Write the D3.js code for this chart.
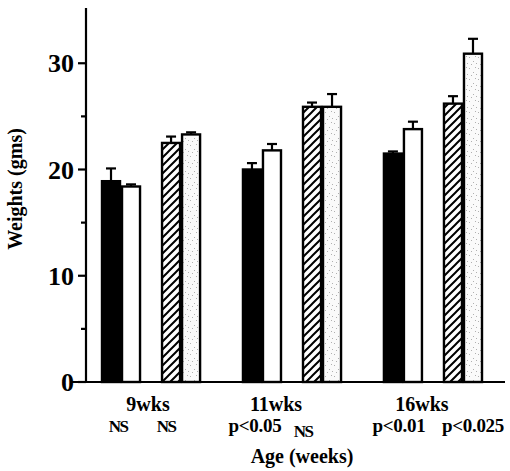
<!DOCTYPE html>
<html>
<head>
<meta charset="utf-8">
<script src="https://cdn.jsdelivr.net/npm/d3@7"></script>
<style>
html,body{margin:0;padding:0;background:#fff;}
svg{display:block;}
text{font-family:"Liberation Serif","DejaVu Serif",serif;font-weight:bold;fill:#000;}
</style>
</head>
<body>
<svg id="chart" width="510" height="471"></svg>
<script>
// ---- data ----
const groups = ["9wks", "11wks", "16wks"];
const seriesNames = ["solid", "open", "hatched", "stippled"];
const solidValues = [18.9, 20.0, 21.5];
const solidErrors = [1.2, 0.6, 0.2];
const openValues = [18.4, 21.8, 23.8];
const openErrors = [0.2, 0.6, 0.7];
const hatchedValues = [22.5, 25.9, 26.2];
const hatchedErrors = [0.6, 0.4, 0.7];
const stippledValues = [23.3, 25.9, 30.9];
const stippledErrors = [0.2, 1.2, 1.4];
const sigLeft = ["NS", "p<0.05", "p<0.01"];
const sigRight = ["NS", "NS", "p<0.025"];
const yTicks = [0, 10, 20, 30];
const yMinorTicks = [5, 15, 25];
const yLabel = "Weights (gms)";
const xLabel = "Age (weeks)";

// layout nudges (pixels) for hand-placed labels
const groupLabelDx = [-3, -16, -11];
const sigLeftDx = [-3, -7, -4];
const sigRightDx = [-15, -19, 10];

const svg = d3.select("#chart");
const y = d3.scaleLinear().domain([0, 35.2]).range([382, 8]);
const x0 = d3.scaleBand().domain(groups).range([101, 483]).paddingInner(0.29).paddingOuter(0);
const x1 = d3.scaleBand().domain(["solid", "open", "_gap", "hatched", "stippled"]).range([0, x0.bandwidth()]);

// patterns
const defs = svg.append("defs");
const hatch = defs.append("pattern").attr("id", "hatch").attr("patternUnits", "userSpaceOnUse")
  .attr("width", 8).attr("height", 8);
hatch.append("rect").attr("width", 8).attr("height", 8).attr("fill", "#fff");
hatch.append("path").attr("d", "M-2,2 L2,-2 M0,8 L8,0 M6,10 L10,6").attr("stroke", "#000").attr("stroke-width", 2);
const stip = defs.append("pattern").attr("id", "stip").attr("patternUnits", "userSpaceOnUse")
  .attr("width", 9).attr("height", 11);
stip.append("rect").attr("width", 9).attr("height", 11).attr("fill", "#fafafa");
[[1,2],[5,6],[7,1],[3,9],[8,8]].forEach(p => stip.append("rect").attr("x", p[0]).attr("y", p[1]).attr("width", 1).attr("height", 1).attr("fill", "#b0b0b0"));

const fills = {solid: "#000", open: "#fff", hatched: "url(#hatch)", stippled: "url(#stip)"};
const table = {
  solid: [solidValues, solidErrors],
  open: [openValues, openErrors],
  hatched: [hatchedValues, hatchedErrors],
  stippled: [stippledValues, stippledErrors]
};
const bars = [];
groups.forEach((g, i) => seriesNames.forEach(s => bars.push({g, s, v: table[s][0][i], e: table[s][1][i]})));

// error bars
const eb = svg.append("g").attr("stroke", "#000").attr("stroke-width", 2.2);
bars.forEach(d => {
  const cx = x0(d.g) + x1(d.s) + x1.bandwidth() / 2;
  eb.append("line").attr("x1", cx).attr("x2", cx).attr("y1", y(d.v)).attr("y2", y(d.v + d.e));
  eb.append("line").attr("x1", cx - 5).attr("x2", cx + 5).attr("y1", y(d.v + d.e)).attr("y2", y(d.v + d.e));
});

// bars
svg.append("g").selectAll("rect").data(bars).join("rect")
  .attr("x", d => x0(d.g) + x1(d.s) + 1)
  .attr("y", d => y(d.v))
  .attr("width", x1.bandwidth() - 2)
  .attr("height", d => y(0) - y(d.v))
  .attr("fill", d => fills[d.s])
  .attr("stroke", "#000").attr("stroke-width", 2.4);

// axes
const ax = svg.append("g").attr("stroke", "#000").attr("stroke-width", 2.2);
ax.append("line").attr("x1", 86).attr("x2", 86).attr("y1", y(35.2)).attr("y2", y(0) + 1);
ax.append("line").attr("x1", 72).attr("x2", 505).attr("y1", y(0)).attr("y2", y(0));
yTicks.forEach(t => ax.append("line").attr("x1", 78).attr("x2", 86).attr("y1", y(t)).attr("y2", y(t)));
yMinorTicks.forEach(t => ax.append("line").attr("x1", 81).attr("x2", 86).attr("y1", y(t)).attr("y2", y(t)));

svg.append("g").selectAll("text").data(yTicks).join("text")
  .attr("x", 74).attr("y", d => y(d)).attr("dy", "0.35em")
  .attr("text-anchor", "end").style("font-size", "26px").text(d => d);

svg.append("text").attr("transform", "translate(22,189) rotate(-90)")
  .attr("text-anchor", "middle").style("font-size", "20px").text(yLabel);

// group labels
svg.append("g").selectAll("text").data(groups).join("text")
  .attr("x", (d, i) => x0(d) + x0.bandwidth() / 2 + groupLabelDx[i]).attr("y", 411)
  .attr("text-anchor", "middle").style("font-size", "20px").text(d => d);

const sigs = [];
groups.forEach((g, i) => {
  sigs.push({g, s: "solid", t: sigLeft[i], dx: sigLeftDx[i], low: false});
  sigs.push({g, s: "hatched", t: sigRight[i], dx: sigRightDx[i], low: i === 1});
});
svg.append("g").selectAll("text").data(sigs).join("text")
  .attr("x", d => x0(d.g) + x1(d.s) + x1.bandwidth() + d.dx)
  .attr("y", d => d.low ? 437 : 432)
  .attr("text-anchor", "middle").style("font-size", d => d.t === "NS" ? "17px" : "19px")
  .attr("letter-spacing", d => d.t === "NS" ? "-1.5px" : "-0.3px")
  .text(d => d.t);

svg.append("text").attr("x", 302).attr("y", 463).attr("text-anchor", "middle")
  .style("font-size", "20px").text(xLabel);
</script>
</body>
</html>
